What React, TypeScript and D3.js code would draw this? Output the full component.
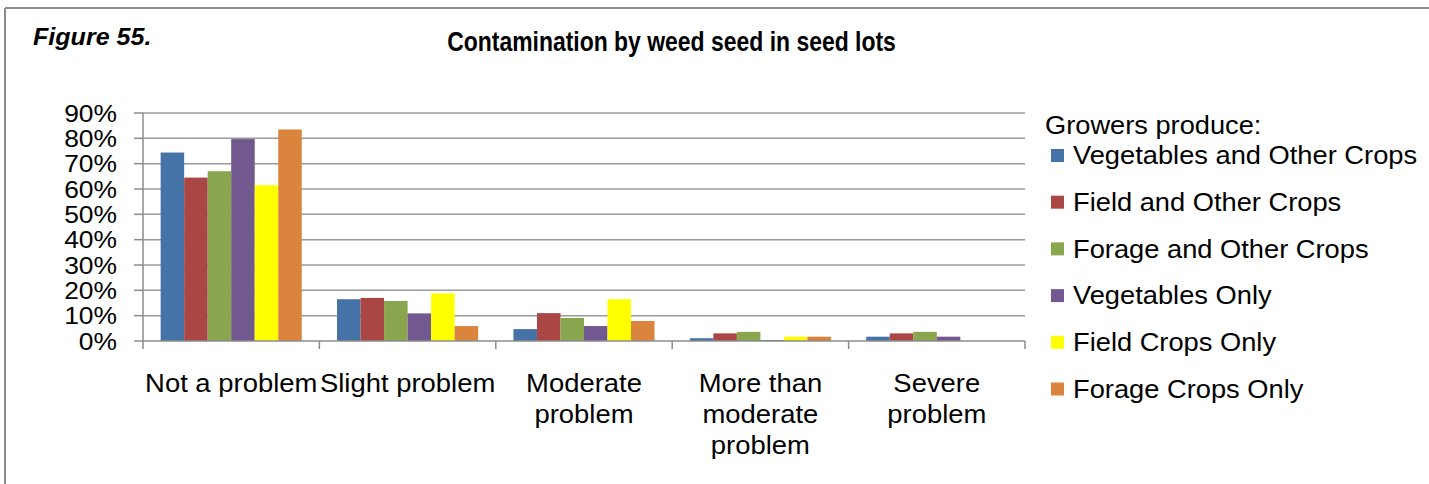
import React from "react";
import * as d3 from "d3";

const categories = ["Not a problem", "Slight problem", "Moderate problem", "More than moderate problem", "Severe problem"];
const categoryLines = [["Not a problem"], ["Slight problem"], ["Moderate", "problem"], ["More than", "moderate", "problem"], ["Severe", "problem"]];
const seriesNames = ["Vegetables and Other Crops", "Field and Other Crops", "Forage and Other Crops", "Vegetables Only", "Field Crops Only", "Forage Crops Only"];
const seriesColors = ["#4572A7", "#AA4643", "#89A54E", "#71588F", "#FFFF00", "#DB843D"];
const vegOther = [74.4, 16.5, 4.7, 1.1, 1.7];
const fieldOther = [64.5, 17.0, 11.0, 3.0, 3.0];
const forageOther = [67.0, 15.8, 9.1, 3.6, 3.6];
const vegOnly = [79.7, 10.9, 5.9, 0.4, 1.7];
const fieldOnly = [61.5, 18.8, 16.5, 1.7, 0];
const forageOnly = [83.5, 5.9, 7.9, 1.7, 0];
const seriesValues = [vegOther, fieldOther, forageOther, vegOnly, fieldOnly, forageOnly];
const yTicks = [0, 10, 20, 30, 40, 50, 60, 70, 80, 90];

const FONT = "'Liberation Sans', Arial, Helvetica, sans-serif";

function T(props: { x: number; y: number; sx: number; size: number; anchor?: string; weight?: string; italic?: boolean; children: React.ReactNode }) {
  const { x, y, sx, size, anchor, weight, italic, children } = props;
  return (
    <text
      transform={`translate(${x},${y}) scale(${sx},1)`}
      fontSize={size}
      textAnchor={anchor || "start"}
      fontWeight={weight || "normal"}
      fontStyle={italic ? "italic" : "normal"}
      fill="#000"
    >
      {children}
    </text>
  );
}

export default function App() {
  const W = 1429, H = 484;
  const left = 143, right = 1025, top = 113, bottom = 341;
  const x0 = d3.scaleBand<string>().domain(categories).range([left, right]).paddingInner(0).paddingOuter(0);
  const bw = x0.bandwidth();
  const unit = bw / 7.5;
  const x1 = d3.scaleBand<string>().domain(seriesNames).range([unit * 0.75, unit * 6.75]).padding(0);
  const y = d3.scaleLinear().domain([0, 90]).range([bottom, top]);

  return (
    <div style={{ position: "absolute", left: 0, top: 0 }}>
      <svg width={W} height={H} style={{ display: "block", background: "#fff" }} fontFamily={FONT}>
        {/* frame */}
        <line x1={5} y1={8} x2={W} y2={8} stroke="#8c8c8c" strokeWidth={2} />
        <line x1={5} y1={8} x2={5} y2={H} stroke="#8c8c8c" strokeWidth={2} />

        <T x={33} y={45} sx={1.09} size={23} weight="bold" italic>Figure 55.</T>
        <T x={671.5} y={51} sx={0.85} size={27} weight="bold" anchor="middle">Contamination by weed seed in seed lots</T>

        {/* gridlines */}
        {yTicks.filter(t => t > 0).map(t => (
          <line key={"g" + t} x1={left} x2={right} y1={y(t)} y2={y(t)} stroke="#9a9a9a" strokeWidth={1.5} />
        ))}
        {/* y axis */}
        <line x1={left} x2={left} y1={top} y2={bottom} stroke="#8c8c8c" strokeWidth={1.5} />
        {yTicks.map(t => (
          <g key={"t" + t}>
            <line x1={134} x2={left} y1={y(t)} y2={y(t)} stroke="#8c8c8c" strokeWidth={1.5} />
            <T x={117} y={y(t) + 8.5} sx={1.1} size={24} anchor="end">{t}%</T>
          </g>
        ))}

        {/* bars */}
        {categories.map((c, ci) => (
          <g key={c}>
            {seriesNames.map((s, si) => {
              const v = seriesValues[si][ci];
              if (v <= 0) return null;
              return (
                <rect key={s} x={(x0(c) as number) + (x1(s) as number)} width={x1.bandwidth()} y={y(v)} height={y(0) - y(v)} fill={seriesColors[si]} />
              );
            })}
          </g>
        ))}

        {/* x axis */}
        <line x1={left} x2={right} y1={bottom} y2={bottom} stroke="#8c8c8c" strokeWidth={1.5} />
        {categories.map(c => (
          <line key={"xt" + c} x1={x0(c) as number} x2={x0(c) as number} y1={bottom} y2={bottom + 8} stroke="#8c8c8c" strokeWidth={1.5} />
        ))}
        <line x1={right} x2={right} y1={bottom} y2={bottom + 8} stroke="#8c8c8c" strokeWidth={1.5} />
        {categories.map((c, ci) => (
          <g key={"xl" + c}>
            {categoryLines[ci].map((ln, li) => (
              <T key={li} x={(x0(c) as number) + bw / 2} y={391.5 + li * 31} sx={1.055} size={26} anchor="middle">{ln}</T>
            ))}
          </g>
        ))}

        {/* legend */}
        <T x={1045} y={133.5} sx={1.09} size={25} >Growers produce:</T>
        {seriesNames.map((s, si) => (
          <g key={"lg" + s}>
            <rect x={1051} y={149 + si * 46.7} width={13} height={13} fill={seriesColors[si]} />
            <T x={1073} y={164.3 + si * 46.7} sx={1.07} size={25.5}>{s}</T>
          </g>
        ))}
      </svg>
    </div>
  );
}
